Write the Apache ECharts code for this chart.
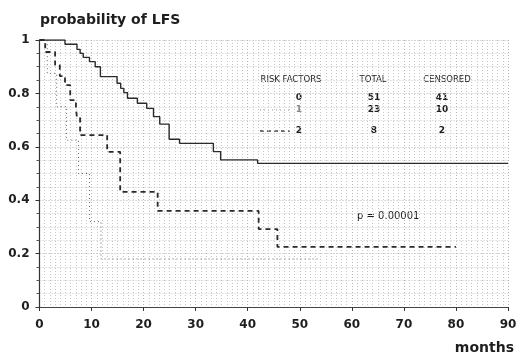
<!DOCTYPE html>
<html>
<head>
<meta charset="utf-8">
<script src="https://cdn.jsdelivr.net/npm/echarts@6/dist/echarts.min.js"></script>
<style>
  html, body { margin: 0; padding: 0; background: #fff; }
  #chart { width: 521px; height: 356px; }
</style>
</head>
<body>
<div id="chart"></div>
<script>
// risk factors 0 (solid)
var solidMonths = [0, 4.9, 7.2, 7.8, 8.4, 9.6, 10.7, 11.7, 14.9, 15.6, 16.2, 16.9, 18.8, 20.6, 21.9, 23.1, 24.9, 26.9, 33.4, 34.8, 41.9, 90];
var solidSurv   = [1, 0.984, 0.965, 0.95, 0.935, 0.919, 0.9, 0.863, 0.838, 0.819, 0.803, 0.782, 0.763, 0.744, 0.713, 0.685, 0.628, 0.613, 0.582, 0.551, 0.538, 0.538];

// dashed curve
var dashMonths = [0, 1.1, 3.0, 3.9, 4.9, 5.9, 7.0, 7.2, 7.8, 13.0, 15.5, 22.7, 42.1, 45.7, 80];
var dashSurv   = [1, 0.955, 0.906, 0.865, 0.831, 0.775, 0.745, 0.708, 0.644, 0.581, 0.431, 0.36, 0.292, 0.225, 0.225];

// dotted curve
var dotMonths = [0, 1.5, 3.3, 5.2, 7.5, 9.6, 11.8, 53.8];
var dotSurv   = [1, 0.875, 0.75, 0.625, 0.5, 0.32, 0.18, 0.18];

// table next to the curves
var tableHead   = ["RISK FACTORS", "TOTAL", "CENSORED"];
var riskFactors = ["0", "1", "2"];
var totals      = ["51", "23", "8"];
var censored    = ["41", "10", "2"];
var pValue = "p = 0.00001";

function pairs(xs, ys) {
  return xs.map(function (x, i) { return [x, ys[i]]; });
}

var chart = echarts.init(document.getElementById("chart"));

var txt = "#1e1e1e";
var font = "DejaVu Sans";

// table text
var colX = [291, 373, 447];
var rowY = [98, 110, 131];
var graphics = [
  { type: "text", style: { text: "probability of LFS", x: 40, y: 20, font: "bold 14px " + font, fill: txt, verticalAlign: "middle" } },
  { type: "text", style: { text: "months", x: 514, y: 348, font: "bold 14px " + font, fill: txt, align: "right", verticalAlign: "middle" } },
  { type: "text", style: { text: pValue, x: 357, y: 216, font: "10px " + font, fill: txt, verticalAlign: "middle" } }
];
tableHead.forEach(function (h, i) {
  graphics.push({ type: "text", style: { text: h, x: colX[i], y: 80, font: "8.5px " + font, fill: txt, align: "center", verticalAlign: "middle" } });
});
riskFactors.forEach(function (r, i) {
  graphics.push({ type: "text", style: { text: r, x: 299, y: rowY[i], font: "bold 9px " + font, fill: i === 1 ? "#888" : txt, align: "center", verticalAlign: "middle" } });
  graphics.push({ type: "text", style: { text: totals[i], x: 374, y: rowY[i], font: "bold 9px " + font, fill: txt, align: "center", verticalAlign: "middle" } });
  graphics.push({ type: "text", style: { text: censored[i], x: 442, y: rowY[i], font: "bold 9px " + font, fill: txt, align: "center", verticalAlign: "middle" } });
});
// line samples in table
graphics.push({ type: "line", shape: { x1: 260, y1: 110, x2: 290, y2: 110 }, style: { stroke: "#999", lineWidth: 1, lineDash: [1, 3] } });
graphics.push({ type: "line", shape: { x1: 260, y1: 131, x2: 290, y2: 131 }, style: { stroke: "#444", lineWidth: 1.5, lineDash: [4, 3] } });

var option = {
  animation: false,
  backgroundColor: "#fff",
  grid: { left: 39.5, right: 13, top: 40, bottom: 49 },
  xAxis: {
    type: "value",
    min: 0,
    max: 90,
    interval: 10,
    axisLine: { show: true, lineStyle: { color: "#444", width: 1.1 } },
    axisTick: { show: true, length: 4, lineStyle: { color: "#333" } },
    axisLabel: { margin: 12, fontFamily: font, fontSize: 12, fontWeight: "bold", color: txt },
    splitLine: { show: true, lineStyle: { color: "#b5b5b5", type: [1, 2] } },
    minorTick: { show: false, splitNumber: 10 },
    minorSplitLine: { show: true, lineStyle: { color: "#c6c6c6", type: [1, 2] } }
  },
  yAxis: {
    type: "value",
    min: 0,
    max: 1,
    interval: 0.2,
    axisLine: { show: true, lineStyle: { color: "#333", width: 1.2 } },
    axisTick: { show: true, length: 4, lineStyle: { color: "#333" } },
    minorTick: { show: true, splitNumber: 4, length: 3, lineStyle: { color: "#555" } },
    axisLabel: { margin: 10, fontFamily: font, fontSize: 12, fontWeight: "bold", color: txt },
    splitLine: { show: true, lineStyle: { color: "#b5b5b5", type: [1, 2] } },
    minorSplitLine: { show: true, lineStyle: { color: "#c6c6c6", type: [1, 2] } }
  },
  series: [
    {
      type: "line", step: "end", symbol: "none",
      data: pairs(dotMonths, dotSurv),
      lineStyle: { color: "#666", width: 1, type: [1, 3] }
    },
    {
      type: "line", step: "end", symbol: "none",
      data: pairs(dashMonths, dashSurv),
      lineStyle: { color: "#2a2a2a", width: 1.8, type: [5, 4] }
    },
    {
      type: "line", step: "end", symbol: "none",
      data: pairs(solidMonths, solidSurv),
      lineStyle: { color: "#2a2a2a", width: 1.4 }
    }
  ],
  graphic: graphics
};
chart.setOption(option);
</script>
</body>
</html>
